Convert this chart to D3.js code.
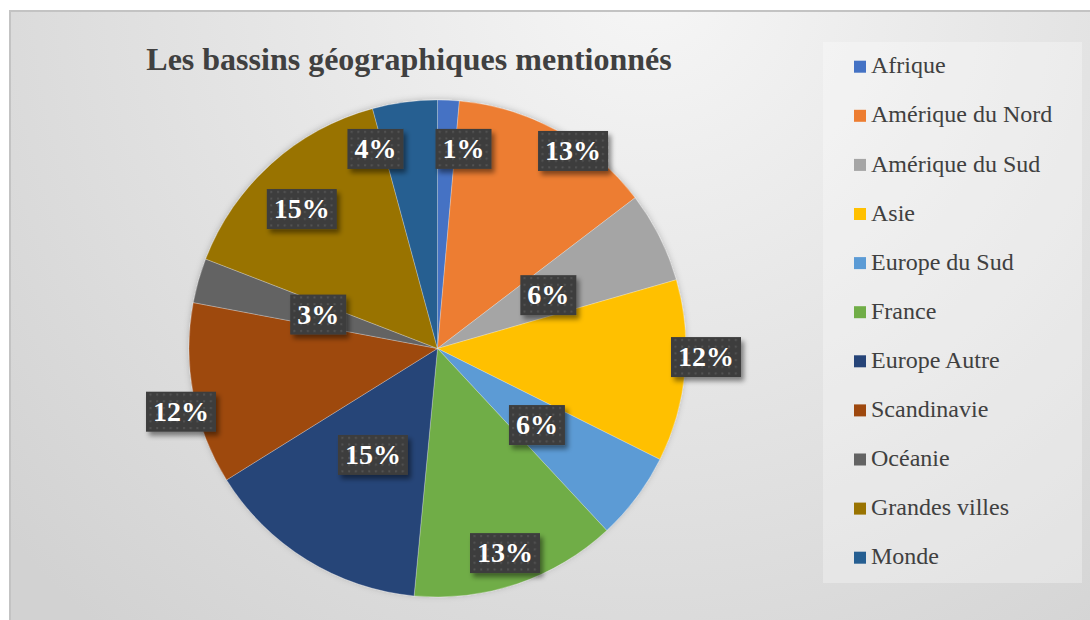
<!DOCTYPE html>
<html>
<head>
<meta charset="utf-8">
<script src="https://cdn.jsdelivr.net/npm/d3@7"></script>
<style>
  body { margin: 0; background: #ffffff; }
  svg { display: block; }
</style>
</head>
<body>
<div id="chart"></div>
<script>
// Data (share of mentions, %)
const categories = ['Afrique', 'Amérique du Nord', 'Amérique du Sud', 'Asie', 'Europe du Sud',
    'France', 'Europe Autre', 'Scandinavie', 'Océanie', 'Grandes villes', 'Monde'];
const shares = [1.4, 13.2, 5.9, 11.8, 5.7, 13.4, 14.6, 11.8, 2.9, 14.9, 4.2];
const colors = ['#4472C4', '#ED7D31', '#A5A5A5', '#FFC000', '#5B9BD5',
    '#70AD47', '#264478', '#9E480E', '#636363', '#997300', '#255E91'];
const title = 'Les bassins géographiques mentionnés';

// Label placement (Excel "best fit"): radius as fraction of pie radius, angle nudge in degrees
const labelPlacement = [[0.81, 4.9], [0.964, 5.6], [0.495, 1], [1.081, -3.4], [0.505, 0.8],
    [0.867, 0.5], [0.501, -0.5], [1.063, -3.2], [0.499, 0], [0.783, -2.2], [0.841, -9.7]];

const width = 1090, height = 620;
const cx = 437.5, cy = 348.5, radius = 248.5;

const svg = d3.select('#chart')
    .append('svg')
    .attr('width', width)
    .attr('height', height)
    .attr('viewBox', [0, 0, width, height]);

const defs = svg.append('defs');

// background gradient
const bg = defs.append('radialGradient')
    .attr('id', 'bg')
    .attr('gradientUnits', 'userSpaceOnUse')
    .attr('cx', 650).attr('cy', -20).attr('r', 850);
bg.append('stop').attr('offset', '0%').attr('stop-color', '#f6f6f6');
bg.append('stop').attr('offset', '100%').attr('stop-color', '#d2d2d2');

// dotted fill for the data labels
const pat = defs.append('pattern')
    .attr('id', 'dots')
    .attr('patternUnits', 'userSpaceOnUse')
    .attr('width', 6.7).attr('height', 6.7);
pat.append('rect').attr('width', 6.7).attr('height', 6.7).attr('fill', '#3d3d3d');
pat.append('rect').attr('x', 2).attr('y', 2).attr('width', 2).attr('height', 2).attr('fill', '#535353');

const shadow = defs.append('filter').attr('id', 'labelShadow')
    .attr('x', '-20%').attr('y', '-20%').attr('width', '150%').attr('height', '160%');
shadow.append('feDropShadow')
    .attr('dx', 3).attr('dy', 4).attr('stdDeviation', 2.5)
    .attr('flood-color', '#000').attr('flood-opacity', 0.45);

const pieShadow = defs.append('filter').attr('id', 'pieShadow')
    .attr('x', '-10%').attr('y', '-10%').attr('width', '120%').attr('height', '120%');
pieShadow.append('feDropShadow')
    .attr('dx', 0).attr('dy', -1).attr('stdDeviation', 3)
    .attr('flood-color', '#000').attr('flood-opacity', 0.2);

// chart area
svg.append('rect')
    .attr('x', 10).attr('y', 11)
    .attr('width', width + 20).attr('height', height + 20)
    .attr('fill', 'url(#bg)')
    .attr('stroke', '#c3c3c3')
    .attr('stroke-width', 2);

// title
svg.append('text')
    .attr('x', 409)
    .attr('y', 70)
    .attr('text-anchor', 'middle')
    .style('font-family', '"Liberation Serif", "Times New Roman", serif')
    .style('font-weight', 'bold')
    .style('font-size', '32px')
    .style('fill', '#404040')
    .text(title);

// pie
const data = categories.map((name, i) => ({name, value: shares[i], color: colors[i]}));
const total = d3.sum(shares);

const pie = d3.pie()
    .sort(null)
    .value(d => d.value);

const arc = d3.arc()
    .innerRadius(0)
    .outerRadius(radius);

const arcs = pie(data);

const g = svg.append('g')
    .attr('transform', `translate(${cx},${cy})`);

g.append('g')
    .attr('filter', 'url(#pieShadow)')
    .selectAll('path')
    .data(arcs)
    .join('path')
    .attr('d', arc)
    .attr('fill', d => d.data.color)
    .attr('stroke', 'rgba(255,255,255,0.35)')
    .attr('stroke-width', 0.75);

// data labels
const fmt = d => Math.round(d.data.value / total * 100) + '%';

const labels = g.selectAll('.label')
    .data(arcs)
    .join('g')
    .attr('class', 'label')
    .attr('transform', (d, i) => {
        const [rf, nudge] = labelPlacement[i];
        const a = (d.startAngle + d.endAngle) / 2 + nudge * Math.PI / 180;
        const r = rf * radius;
        return `translate(${r * Math.sin(a)},${-r * Math.cos(a)})`;
    });

labels.append('text')
    .attr('class', 'lbl-text')
    .attr('text-anchor', 'middle')
    .attr('y', 9)
    .style('font-family', '"Liberation Serif", "Times New Roman", serif')
    .style('font-weight', 'bold')
    .style('font-size', '28px')
    .style('fill', '#ffffff')
    .text(fmt);

labels.each(function() {
    const grp = d3.select(this);
    const w = grp.select('text').node().getComputedTextLength() + 14;
    grp.insert('rect', 'text')
        .attr('x', -w / 2)
        .attr('y', -20)
        .attr('width', w)
        .attr('height', 40)
        .attr('fill', 'url(#dots)')
        .attr('filter', 'url(#labelShadow)');
});

// legend
const legend = svg.append('g');

legend.append('rect')
    .attr('x', 823).attr('y', 42)
    .attr('width', 259).attr('height', 541)
    .attr('fill', 'rgba(255,255,255,0.3)');

const y = d3.scalePoint()
    .domain(categories)
    .range([73.3, 73.3 + 49.1 * (categories.length - 1)]);

const items = legend.selectAll('.item')
    .data(data)
    .join('g')
    .attr('class', 'item')
    .attr('transform', d => `translate(0,${y(d.name)})`);

items.append('rect')
    .attr('x', 854).attr('y', -12.6)
    .attr('width', 12).attr('height', 12)
    .attr('fill', d => d.color);

items.append('text')
    .attr('x', 871)
    .attr('y', 0)
    .style('font-family', '"Liberation Serif", "Times New Roman", serif')
    .style('font-size', '24px')
    .style('fill', '#404040')
    .text(d => d.name);
</script>
</body>
</html>
